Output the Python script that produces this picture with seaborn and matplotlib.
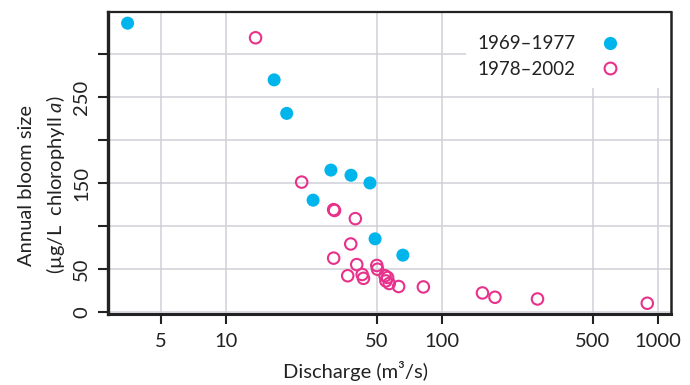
import numpy as np
import pandas as pd
import seaborn as sns
import matplotlib.pyplot as plt
from matplotlib.lines import Line2D
from matplotlib.patches import Rectangle

# ---- data ----
early_label = "1969–1977"
late_label = "1978–2002"

early_discharge = [3.5, 16.7, 19.1, 30.6, 37.9, 46.4, 25.3, 49.0, 65.9]
early_bloom = [336, 270, 231, 165, 159, 150, 130, 85, 66]

late_discharge = [13.7, 22.4, 31.5, 31.8, 39.7, 37.8, 31.5, 40.3, 49.9, 50.3,
                  36.6, 42.7, 43.3, 54.5, 56.0, 55.0, 57.0, 63.0, 82.0,
                  154, 176, 277, 893]
late_bloom = [319, 151, 119, 118, 108.5, 79, 62.5, 55, 54, 49.6,
              42, 43.5, 39, 42, 40, 36, 33, 29.5, 29,
              22, 17, 15, 10]

x_ticks = [5, 10, 50, 100, 500, 1000]
x_ticklabels = ["5", "10", "50", "100", "500", "1000"]
y_ticks = [0, 50, 100, 150, 200, 250, 300]
y_ticklabels = ["0", "50", "", "150", "", "250", ""]

blue = "#00b4ec"
pink = "#e8318a"
grid_c = "#cfcfd9"
dark = "#222222"

df_early = pd.DataFrame({"discharge": early_discharge, "bloom": early_bloom})
df_late = pd.DataFrame({"discharge": late_discharge, "bloom": late_bloom})

sns.set_theme(style="white")
plt.rcParams['font.family'] = ['Lato', 'DejaVu Sans']
plt.rcParams['mathtext.fontset'] = 'custom'
plt.rcParams['mathtext.rm'] = 'Lato'
plt.rcParams['mathtext.it'] = 'Lato:italic'

fig = plt.figure(figsize=(6.9, 3.85), dpi=100)
ax = fig.add_axes([108 / 690, 1 - 314 / 385, (671 - 108) / 690, (314 - 12) / 385])

sns.scatterplot(data=df_early, x="discharge", y="bloom", ax=ax, color=blue,
                s=88, edgecolor="none", linewidth=0, zorder=3)
sns.scatterplot(data=df_late, x="discharge", y="bloom", ax=ax, facecolor="none",
                edgecolor=pink, s=68, linewidth=1.5, zorder=3)

ax.set_xscale("log")
ax.set_xlim(2.84, 1150)
ax.set_ylim(-2.5, 349)

ax.set_xticks(x_ticks)
ax.set_xticklabels(x_ticklabels)
ax.minorticks_off()
ax.set_yticks(y_ticks)
ax.set_yticklabels(y_ticklabels, rotation=90, va="center")

ax.grid(True, color=grid_c, linewidth=1.1)
ax.set_axisbelow(True)

# white area behind the legend hides the grid there
ax.add_patch(Rectangle((0.636, 0.748), 0.364, 0.252, transform=ax.transAxes,
                       facecolor="white", edgecolor="none", zorder=1))

ax.tick_params(axis="both", which="major", length=7, width=1.5, color=dark,
               labelsize=14.5, labelcolor=dark, direction="out")
ax.tick_params(axis="x", pad=7, bottom=True)
ax.tick_params(axis="y", pad=6, left=True)

for side, lw in [("left", 2.4), ("bottom", 2.2), ("top", 1.6), ("right", 1.8)]:
    ax.spines[side].set_visible(True)
    ax.spines[side].set_color(dark)
    ax.spines[side].set_linewidth(lw)
    ax.spines[side].set_zorder(4)

ax.set_xlabel("Discharge (m³/s)", fontsize=14.5, color=dark)
ax.xaxis.set_label_coords(0.44, -0.156)
ax.set_ylabel("Annual bloom size\n(µg/L  chlorophyll $\\mathit{a}$)", fontsize=14.5,
              color=dark, linespacing=1.5)
ax.yaxis.set_label_coords(-0.072, 0.427)

handles = [
    Line2D([], [], marker="o", linestyle="none", markersize=9.5,
           markerfacecolor=blue, markeredgecolor=blue, markeredgewidth=0),
    Line2D([], [], marker="o", linestyle="none", markersize=8.5,
           markerfacecolor="none", markeredgecolor=pink, markeredgewidth=1.5),
]
leg = ax.legend(handles, [early_label, late_label], loc="center",
                bbox_to_anchor=(0.782, 0.852), markerfirst=False, frameon=False,
                fontsize=13.5, handletextpad=1.3, labelspacing=0.45,
                borderpad=0.0, borderaxespad=0.0, handlelength=1.0)
for t in leg.get_texts():
    t.set_color(dark)
leg.set_zorder(5)

fig.savefig("out.png", dpi=100)
